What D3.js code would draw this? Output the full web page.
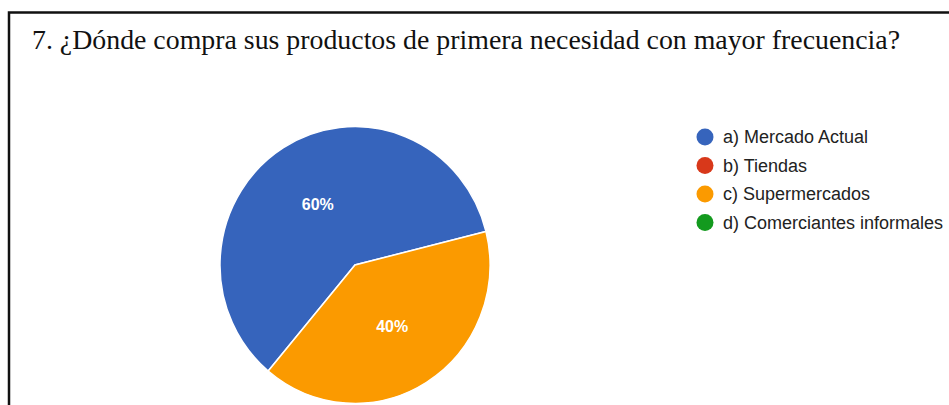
<!DOCTYPE html>
<html>
<head>
<meta charset="utf-8">
<script src="https://cdn.jsdelivr.net/npm/d3@7"></script>
<style>
  body { margin: 0; background: #fff; }
  svg { display: block; }
</style>
</head>
<body>
<svg id="chart"></svg>
<script>
const title = '7. ¿Dónde compra sus productos de primera necesidad con mayor frecuencia?';
const categories = ['a) Mercado Actual', 'b) Tiendas', 'c) Supermercados', 'd) Comerciantes informales'];
const values = [60, 0, 40, 0];
const colors = ['#3664bc', '#d8381a', '#fb9a00', '#139a1e'];

const width = 949;
const height = 405;

const svg = d3.select('#chart')
  .attr('width', width)
  .attr('height', height);

// frame
svg.append('rect')
  .attr('x', 9)
  .attr('y', 12.5)
  .attr('width', width + 20)
  .attr('height', height + 20)
  .attr('fill', '#fff')
  .attr('stroke', '#111')
  .attr('stroke-width', 2.5);

svg.append('text')
  .attr('x', 32)
  .attr('y', 49)
  .attr('font-family', '"Liberation Serif", "Times New Roman", serif')
  .attr('font-size', 27)
  .attr('fill', '#111')
  .attr('textLength', 868)
  .attr('lengthAdjust', 'spacingAndGlyphs')
  .text(title);

const color = d3.scaleOrdinal()
  .domain(categories)
  .range(colors);

const radius = 135;
const pie = d3.pie()
  .sort(null)
  .value((d) => d.value)
  .startAngle(-140 * Math.PI / 180)
  .endAngle(220 * Math.PI / 180);

const data = categories.map((c, i) => ({ name: c, value: values[i] }));
const arcs = pie(data).filter((d) => d.data.value > 0);

const arc = d3.arc().innerRadius(0).outerRadius(radius);
const labelArc = d3.arc().innerRadius(radius * 0.52).outerRadius(radius * 0.52);
const total = d3.sum(values);

const chart = svg.append('g')
  .attr('transform', 'translate(355,265) scale(1,1.025)');

chart.selectAll('path')
  .data(arcs)
  .enter()
  .append('path')
  .attr('d', arc)
  .attr('fill', (d) => color(d.data.name))
  .attr('stroke', '#fff')
  .attr('stroke-width', 1.5);

chart.selectAll('text')
  .data(arcs)
  .enter()
  .append('text')
  .attr('transform', (d) => `translate(${labelArc.centroid(d)})`)
  .attr('text-anchor', 'middle')
  .attr('dy', '0.35em')
  .attr('font-family', '"Liberation Sans", Arial, sans-serif')
  .attr('font-size', 16)
  .attr('font-weight', 'bold')
  .attr('fill', '#fff')
  .text((d) => `${Math.round((d.data.value / total) * 100)}%`);

// legend
const legend = svg.append('g')
  .attr('transform', 'translate(705,137)');

const row = 28.5;

legend.selectAll('circle')
  .data(categories)
  .enter()
  .append('circle')
  .attr('cx', 0)
  .attr('cy', (d, i) => i * row)
  .attr('r', 8.5)
  .attr('fill', (d) => color(d));

legend.selectAll('text')
  .data(categories)
  .enter()
  .append('text')
  .attr('x', 18)
  .attr('y', (d, i) => i * row)
  .attr('dy', '0.35em')
  .attr('font-family', '"Liberation Sans", Arial, sans-serif')
  .attr('font-size', 18)
  .attr('fill', '#222')
  .text((d) => d);
</script>
</body>
</html>
